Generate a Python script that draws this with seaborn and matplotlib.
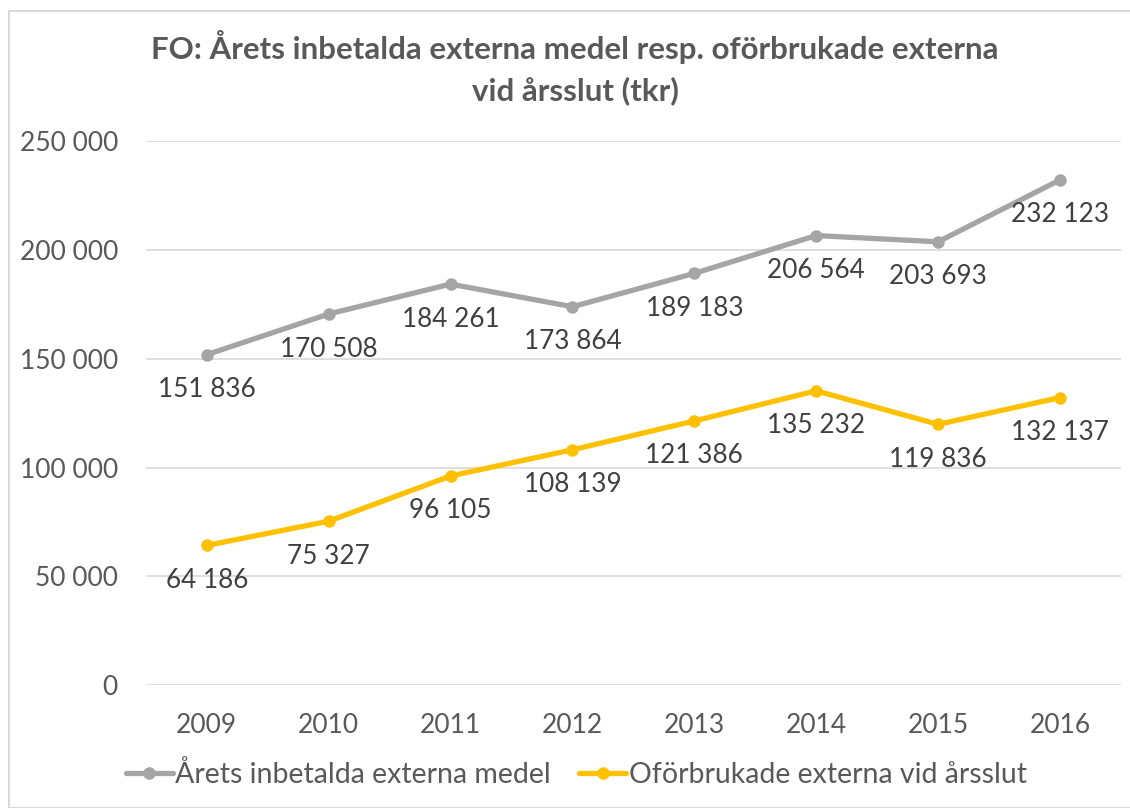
import pandas as pd
import matplotlib.pyplot as plt
import matplotlib.ticker as mticker
from matplotlib.patches import Rectangle
import seaborn as sns

years = [2009, 2010, 2011, 2012, 2013, 2014, 2015, 2016]
inbetalda = [151836, 170508, 184261, 173864, 189183, 206564, 203693, 232123]
oforbrukade = [64186, 75327, 96105, 108139, 121386, 135232, 119836, 132137]
series_names = ['Årets inbetalda externa medel', 'Oförbrukade externa vid årsslut']
colors = ['#a5a5a5', '#ffc000']

df = pd.DataFrame({
    'År': years * 2,
    'Värde': inbetalda + oforbrukade,
    'Serie': [series_names[0]] * len(years) + [series_names[1]] * len(years),
})

sns.set_style('white')
plt.rcParams['font.family'] = ['Lato', 'DejaVu Sans']

fig = plt.figure(figsize=(11.3, 8.08), dpi=100)
ax = fig.add_axes([0.129, 0.152, 0.863, 0.6735])

sns.lineplot(data=df, x='År', y='Värde', hue='Serie', palette=colors,
             marker='o', markersize=9, markeredgewidth=0, linewidth=3.8,
             ax=ax, legend=True)

def fmt(v):
    return f'{v:,}'.replace(',', ' ')

for vals in [inbetalda, oforbrukade]:
    for x, v in zip(years, vals):
        ax.annotate(fmt(v), (x, v), xytext=(0, -35), textcoords='offset pixels',
                    ha='center', va='center', fontsize=18.8, color='#404040')

ax.set_xlim(2008.5, 2016.5)
ax.set_ylim(0, 250000)
ax.set_xticks(years)
ax.set_yticks(range(0, 250001, 50000))
ax.yaxis.set_major_formatter(mticker.FuncFormatter(lambda v, p: fmt(int(v))))
ax.tick_params(axis='both', labelsize=19, labelcolor='#595959', length=0)
ax.tick_params(axis='x', pad=20)
ax.tick_params(axis='y', pad=20)
ax.grid(axis='y', color='#d9d9d9', linewidth=1.2)
for s in ax.spines.values():
    s.set_visible(False)
ax.set_xlabel('')
ax.set_ylabel('')

fig.suptitle('FO: Årets inbetalda externa medel resp. oförbrukade externa\nvid årsslut (tkr)',
             x=0.509, y=0.963, fontsize=22.5, fontweight='bold', color='#595959',
             linespacing=1.5)

handles, labels = ax.get_legend_handles_labels()
leg = fig.legend(handles, labels, loc='center', bbox_to_anchor=(0.51, 0.042),
                 ncol=2, frameon=False, fontsize=20.5, handlelength=1.65,
                 handletextpad=0.08, columnspacing=1.0, labelcolor='#595959')
ax.get_legend().remove()

fig.patches.append(Rectangle((9 / 1130, 0), 1 - 9 / 1130 + 0.01, 1 - 11 / 808,
                             transform=fig.transFigure, fill=False,
                             edgecolor='#d9d9d9', linewidth=1.5))

fig.savefig('out.png', dpi=100)
